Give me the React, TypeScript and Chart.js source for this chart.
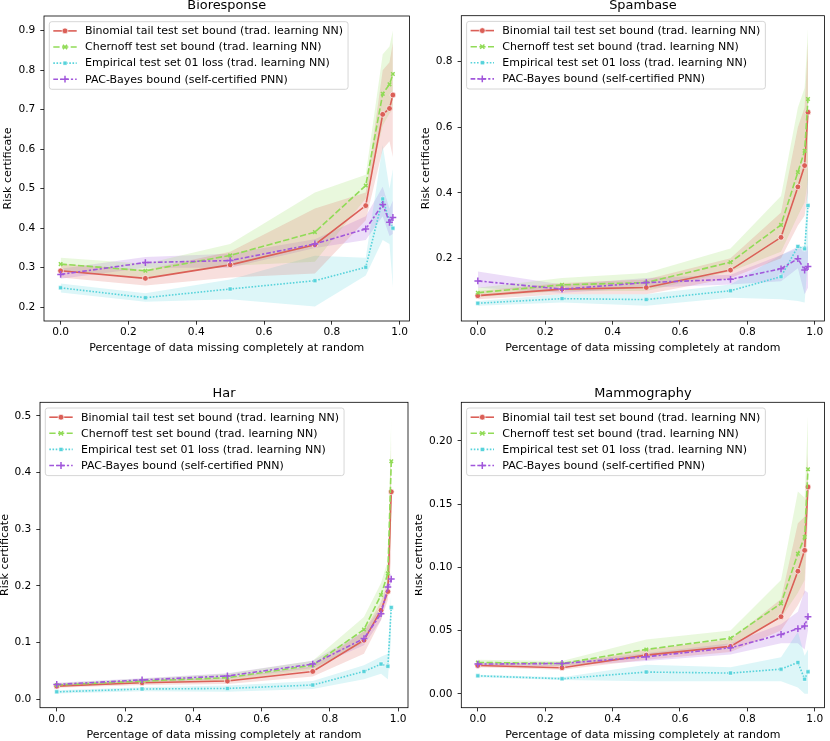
import React, { useEffect, useRef } from 'react';
import { Chart, registerables } from 'chart.js';

Chart.register(...registerables);

// ---------------- data ----------------
const missingFractions = [0, 0.25, 0.5, 0.75, 0.9, 0.95, 0.97, 0.98];

const seriesLabels = [
  'Binomial tail test set bound (trad. learning NN)',
  'Chernoff test set bound (trad. learning NN)',
  'Empirical test set 01 loss (trad. learning NN)',
  'PAC-Bayes bound (self-certified PNN)',
];

const panelTitles = ['Bioresponse', 'Spambase', 'Har', 'Mammography'];
const xAxisTitle = 'Percentage of data missing completely at random';
const yAxisTitle = 'Risk certificate';

const xTickValues = [0, 0.2, 0.4, 0.6, 0.8, 1.0];
const xTickLabels = ['0.0', '0.2', '0.4', '0.6', '0.8', '1.0'];

// Bioresponse
const bioBinomial = [0.292, 0.273, 0.307, 0.358, 0.457, 0.688, 0.703, 0.737];
const bioBinomialLo = [0.275, 0.255, 0.275, 0.285, 0.42, 0.6, 0.62, 0.58];
const bioBinomialHi = [0.31, 0.295, 0.34, 0.45, 0.49, 0.8, 0.82, 0.87];
const bioChernoff = [0.309, 0.292, 0.331, 0.39, 0.508, 0.74, 0.764, 0.79];
const bioChernoffLo = [0.29, 0.275, 0.305, 0.315, 0.475, 0.66, 0.69, 0.7];
const bioChernoffHi = [0.325, 0.31, 0.36, 0.49, 0.535, 0.84, 0.86, 0.9];
const bioEmpirical = [0.249, 0.224, 0.246, 0.267, 0.301, 0.474, 0.418, 0.4];
const bioEmpiricalLo = [0.237, 0.214, 0.22, 0.202, 0.28, 0.37, 0.36, 0.25];
const bioEmpiricalHi = [0.26, 0.235, 0.27, 0.33, 0.325, 0.61, 0.5, 0.55];
const bioPacBayes = [0.283, 0.313, 0.318, 0.36, 0.398, 0.46, 0.415, 0.427];
const bioPacBayesLo = [0.272, 0.3, 0.3, 0.35, 0.37, 0.43, 0.38, 0.385];
const bioPacBayesHi = [0.297, 0.327, 0.335, 0.372, 0.43, 0.505, 0.45, 0.47];
const bioYTicks = [0.2, 0.3, 0.4, 0.5, 0.6, 0.7, 0.8, 0.9];
const bioYTickLabels = ['0.2', '0.3', '0.4', '0.5', '0.6', '0.7', '0.8', '0.9'];

// Spambase
const spamBinomial = [0.086, 0.106, 0.111, 0.164, 0.264, 0.418, 0.483, 0.646];
const spamBinomialLo = [0.075, 0.09, 0.09, 0.14, 0.2, 0.3, 0.33, 0.4];
const spamBinomialHi = [0.1, 0.125, 0.135, 0.2, 0.34, 0.6, 0.66, 0.86];
const spamChernoff = [0.095, 0.119, 0.126, 0.188, 0.302, 0.463, 0.528, 0.686];
const spamChernoffLo = [0.082, 0.1, 0.1, 0.16, 0.22, 0.33, 0.37, 0.44];
const spamChernoffHi = [0.11, 0.14, 0.155, 0.23, 0.39, 0.66, 0.72, 0.9];
const spamEmpirical = [0.063, 0.077, 0.074, 0.101, 0.144, 0.236, 0.229, 0.361];
const spamEmpiricalLo = [0.055, 0.065, 0.055, 0.08, 0.075, 0.07, 0.065, 0.2];
const spamEmpiricalHi = [0.07, 0.09, 0.09, 0.12, 0.21, 0.23, 0.24, 0.5];
const spamPacBayes = [0.131, 0.106, 0.126, 0.136, 0.168, 0.199, 0.164, 0.175];
const spamPacBayesLo = [0.11, 0.095, 0.11, 0.12, 0.13, 0.17, 0.09, 0.11];
const spamPacBayesHi = [0.16, 0.12, 0.14, 0.15, 0.21, 0.235, 0.22, 0.24];
const spamYTicks = [0.2, 0.4, 0.6, 0.8];
const spamYTickLabels = ['0.2', '0.4', '0.6', '0.8'];

// Har
const harBinomial = [0.023, 0.029, 0.032, 0.049, 0.104, 0.157, 0.19, 0.366];
const harBinomialLo = [0.02, 0.025, 0.027, 0.04, 0.08, 0.14, 0.175, 0.25];
const harBinomialHi = [0.027, 0.033, 0.037, 0.058, 0.12, 0.172, 0.21, 0.46];
const harChernoff = [0.025, 0.032, 0.038, 0.06, 0.123, 0.184, 0.222, 0.42];
const harChernoffLo = [0.022, 0.028, 0.032, 0.052, 0.1, 0.165, 0.2, 0.3];
const harChernoffHi = [0.028, 0.036, 0.045, 0.068, 0.145, 0.205, 0.245, 0.5];
const harEmpirical = [0.013, 0.018, 0.019, 0.025, 0.049, 0.062, 0.058, 0.162];
const harEmpiricalLo = [0.01, 0.014, 0.013, 0.018, 0.035, 0.045, 0.035, 0.11];
const harEmpiricalHi = [0.016, 0.021, 0.024, 0.032, 0.06, 0.075, 0.08, 0.19];
const harPacBayes = [0.026, 0.034, 0.041, 0.062, 0.107, 0.151, 0.198, 0.212];
const harPacBayesLo = [0.023, 0.03, 0.036, 0.055, 0.095, 0.14, 0.185, 0.2];
const harPacBayesHi = [0.029, 0.037, 0.046, 0.068, 0.12, 0.163, 0.21, 0.225];
const harYTicks = [0.0, 0.1, 0.2, 0.3, 0.4, 0.5];
const harYTickLabels = ['0.0', '0.1', '0.2', '0.3', '0.4', '0.5'];

// Mammography
const mamBinomial = [0.0224, 0.0206, 0.0306, 0.0375, 0.061, 0.097, 0.1135, 0.1636];
const mamBinomialLo = [0.021, 0.019, 0.027, 0.033, 0.05, 0.07, 0.08, 0.14];
const mamBinomialHi = [0.024, 0.023, 0.035, 0.043, 0.075, 0.135, 0.14, 0.19];
const mamChernoff = [0.0248, 0.024, 0.0351, 0.044, 0.0715, 0.1108, 0.124, 0.1776];
const mamChernoffLo = [0.023, 0.022, 0.029, 0.039, 0.06, 0.08, 0.09, 0.15];
const mamChernoffHi = [0.027, 0.026, 0.043, 0.05, 0.09, 0.16, 0.155, 0.22];
const mamEmpirical = [0.0142, 0.0119, 0.0172, 0.0164, 0.0195, 0.0248, 0.0116, 0.0174];
const mamEmpiricalLo = [0.013, 0.011, 0.01, 0.01, 0.01, 0.005, 0.0, 0.0];
const mamEmpiricalHi = [0.015, 0.013, 0.023, 0.021, 0.029, 0.049, 0.03, 0.035];
const mamPacBayes = [0.0235, 0.024, 0.0293, 0.0364, 0.047, 0.0515, 0.0536, 0.061];
const mamPacBayesLo = [0.022, 0.022, 0.026, 0.031, 0.04, 0.04, 0.035, 0.05];
const mamPacBayesHi = [0.025, 0.025, 0.032, 0.04, 0.055, 0.065, 0.082, 0.08];
const mamYTicks = [0.0, 0.05, 0.1, 0.15, 0.2];
const mamYTickLabels = ['0.00', '0.05', '0.10', '0.15', '0.20'];

// ---------------- styles ----------------
const FONT_FAMILY = '"DejaVu Sans", sans-serif';
const TICK_FONT = 10.6;
const LABEL_FONT = 11;
const TITLE_FONT = 12.9;
const LEGEND_FONT = 11;

const SERIES_STYLES = [
  { color: '#db5f57', rgb: '219,95,87', dash: [] as number[], point: 'circle', radius: 2.9, pBorder: '#ffffff', pBorderW: 0.7 },
  { color: '#91db57', rgb: '145,219,87', dash: [6.3, 2.4], point: 'crossRot', radius: 2.5, pBorder: '#91db57', pBorderW: 1.5 },
  { color: '#57d3db', rgb: '87,211,219', dash: [1.6, 1.6], point: 'rect', radius: 2.8, pBorder: '#ffffff', pBorderW: 0.5 },
  { color: '#a157db', rgb: '161,87,219', dash: [4.7, 2, 2.2, 2], point: 'cross', radius: 3.4, pBorder: '#a157db', pBorderW: 1.5 },
];

type Geom = { x: number; y: number; w: number; h: number; left: number; top: number; right: number; bottom: number; ylabelX: number; xlabelY: number; titleGap: number };

const panels = [
  {
    title: panelTitles[0],
    series: [[bioBinomial, bioBinomialLo, bioBinomialHi], [bioChernoff, bioChernoffLo, bioChernoffHi], [bioEmpirical, bioEmpiricalLo, bioEmpiricalHi], [bioPacBayes, bioPacBayesLo, bioPacBayesHi]],
    yMin: 0.165, yMax: 0.937, yTicks: bioYTicks, yTickLabels: bioYTickLabels,
    geom: { x: 0, y: 0, w: 415, h: 370, left: 44, top: 16, right: 412, bottom: 321, ylabelX: 8.3, xlabelY: 348.3, titleGap: 7.2 } as Geom,
  },
  {
    title: panelTitles[1],
    series: [[spamBinomial, spamBinomialLo, spamBinomialHi], [spamChernoff, spamChernoffLo, spamChernoffHi], [spamEmpirical, spamEmpiricalLo, spamEmpiricalHi], [spamPacBayes, spamPacBayesLo, spamPacBayesHi]],
    yMin: 0.0087, yMax: 0.9404, yTicks: spamYTicks, yTickLabels: spamYTickLabels,
    geom: { x: 415, y: 0, w: 415, h: 370, left: 46.3, top: 15.7, right: 414, bottom: 321, ylabelX: 11.2, xlabelY: 348.3, titleGap: 6.8 } as Geom,
  },
  {
    title: panelTitles[2],
    series: [[harBinomial, harBinomialLo, harBinomialHi], [harChernoff, harChernoffLo, harChernoffHi], [harEmpirical, harEmpiricalLo, harEmpiricalHi], [harPacBayes, harPacBayesLo, harPacBayesHi]],
    yMin: -0.015, yMax: 0.524, yTicks: harYTicks, yTickLabels: harYTickLabels,
    geom: { x: 0, y: 370, w: 415, h: 371, left: 40, top: 32.3, right: 408, bottom: 337.7, ylabelX: 5, xlabelY: 365, titleGap: 5.8 } as Geom,
  },
  {
    title: panelTitles[3],
    series: [[mamBinomial, mamBinomialLo, mamBinomialHi], [mamChernoff, mamChernoffLo, mamChernoffHi], [mamEmpirical, mamEmpiricalLo, mamEmpiricalHi], [mamPacBayes, mamPacBayesLo, mamPacBayesHi]],
    yMin: -0.011, yMax: 0.2306, yTicks: mamYTicks, yTickLabels: mamYTickLabels,
    geom: { x: 415, y: 370, w: 415, h: 371, left: 46.3, top: 32.3, right: 414, bottom: 337.7, ylabelX: 4.2, xlabelY: 365, titleGap: 5.8 } as Geom,
  },
];

// ---------------- helpers ----------------
function drawMarker(ctx: CanvasRenderingContext2D, kind: string, x: number, y: number, st: any) {
  ctx.save();
  ctx.setLineDash([]);
  const r = st.radius;
  if (kind === 'circle') {
    ctx.beginPath();
    ctx.arc(x, y, r, 0, Math.PI * 2);
    ctx.fillStyle = st.color;
    ctx.fill();
    ctx.strokeStyle = st.pBorder;
    ctx.lineWidth = st.pBorderW;
    ctx.stroke();
  } else if (kind === 'rect') {
    const s = r * Math.SQRT1_2;
    ctx.fillStyle = st.color;
    ctx.fillRect(x - s, y - s, 2 * s, 2 * s);
    ctx.strokeStyle = st.pBorder;
    ctx.lineWidth = st.pBorderW;
    ctx.strokeRect(x - s, y - s, 2 * s, 2 * s);
  } else if (kind === 'crossRot') {
    const d = r * Math.SQRT1_2 * 1.2;
    ctx.strokeStyle = st.color;
    ctx.lineWidth = st.pBorderW;
    ctx.beginPath();
    ctx.moveTo(x - d, y - d); ctx.lineTo(x + d, y + d);
    ctx.moveTo(x - d, y + d); ctx.lineTo(x + d, y - d);
    ctx.stroke();
  } else {
    ctx.strokeStyle = st.color;
    ctx.lineWidth = st.pBorderW;
    ctx.beginPath();
    ctx.moveTo(x - r, y); ctx.lineTo(x + r, y);
    ctx.moveTo(x, y - r); ctx.lineTo(x, y + r);
    ctx.stroke();
  }
  ctx.restore();
}

const frameAndTextPlugin = {
  id: 'mplFrame',
  afterDatasetsDraw(chart: any) {
    const { ctx, chartArea: a } = chart;
    const opts = chart.options.plugins.mplFrame;
    ctx.save();
    // axes frame
    ctx.strokeStyle = '#000';
    ctx.lineWidth = 0.8;
    ctx.setLineDash([]);
    ctx.strokeRect(a.left, a.top, a.right - a.left, a.bottom - a.top);
    // title
    ctx.fillStyle = '#000';
    ctx.font = `${TITLE_FONT}px ${FONT_FAMILY}`;
    ctx.textAlign = 'center';
    ctx.textBaseline = 'alphabetic';
    ctx.fillText(opts.title, (a.left + a.right) / 2, a.top - opts.titleGap);
    // legend
    ctx.font = `${LEGEND_FONT}px ${FONT_FAMILY}`;
    const maxW = Math.max(...seriesLabels.map((l) => ctx.measureText(l).width));
    const bx = a.left + 5.3;
    const by = a.top + 5.7;
    const bw = 41 - 5.3 + maxW + 5;
    const bh = 67.6;
    ctx.beginPath();
    const rr = 2.5;
    ctx.moveTo(bx + rr, by);
    ctx.lineTo(bx + bw - rr, by);
    ctx.quadraticCurveTo(bx + bw, by, bx + bw, by + rr);
    ctx.lineTo(bx + bw, by + bh - rr);
    ctx.quadraticCurveTo(bx + bw, by + bh, bx + bw - rr, by + bh);
    ctx.lineTo(bx + rr, by + bh);
    ctx.quadraticCurveTo(bx, by + bh, bx, by + bh - rr);
    ctx.lineTo(bx, by + rr);
    ctx.quadraticCurveTo(bx, by, bx + rr, by);
    ctx.closePath();
    ctx.fillStyle = 'rgba(255,255,255,0.8)';
    ctx.fill();
    ctx.strokeStyle = '#cccccc';
    ctx.lineWidth = 0.8;
    ctx.stroke();
    seriesLabels.forEach((label, i) => {
      const st = SERIES_STYLES[i];
      const cy = a.top + 14.9 + i * 16.1;
      const hx0 = a.left + 9.3;
      const hx1 = a.left + 32.7;
      ctx.save();
      ctx.strokeStyle = st.color;
      ctx.lineWidth = 1.6;
      ctx.setLineDash(st.dash);
      ctx.beginPath();
      ctx.moveTo(hx0, cy);
      ctx.lineTo(hx1, cy);
      ctx.stroke();
      ctx.restore();
      drawMarker(ctx, st.point, (hx0 + hx1) / 2, cy, st);
      ctx.fillStyle = '#000';
      ctx.textAlign = 'left';
      ctx.textBaseline = 'middle';
      ctx.fillText(label, a.left + 41, cy + 0.5);
    });
    ctx.restore();
  },
};

function PanelChart({ panel }: { panel: (typeof panels)[number] }) {
  const ref = useRef<HTMLCanvasElement>(null);
  useEffect(() => {
    const g = panel.geom;
    const datasets: any[] = [];
    panel.series.forEach((s, i) => {
      const st = SERIES_STYLES[i];
      datasets.push({
        label: seriesLabels[i],
        data: missingFractions.map((x, k) => ({ x, y: s[0][k] })),
        borderColor: st.color,
        backgroundColor: st.color,
        borderWidth: 1.6,
        borderDash: st.dash,
        pointStyle: st.point,
        pointRadius: st.radius,
        pointBackgroundColor: st.color,
        pointBorderColor: st.pBorder,
        pointBorderWidth: st.pBorderW,
        fill: false,
        tension: 0,
        order: 3 - i,
      });
    });
    panel.series.forEach((s, i) => {
      const st = SERIES_STYLES[i];
      datasets.push({
        label: '',
        data: missingFractions.map((x, k) => ({ x, y: s[2][k] })),
        borderColor: 'rgba(0,0,0,0)',
        borderWidth: 1,
        pointRadius: 0,
        backgroundColor: `rgba(${st.rgb},0.2)`,
        fill: '+1',
        tension: 0,
        order: 10 + i,
      });
      datasets.push({
        label: '',
        data: missingFractions.map((x, k) => ({ x, y: s[1][k] })),
        borderColor: 'rgba(0,0,0,0)',
        borderWidth: 1,
        pointRadius: 0,
        backgroundColor: 'rgba(0,0,0,0)',
        fill: false,
        tension: 0,
        order: 10 + i,
      });
    });
    const tickFont = { family: FONT_FAMILY, size: TICK_FONT };
    const labelFont = { family: FONT_FAMILY, size: LABEL_FONT };
    const lh = LABEL_FONT * 1.2;
    const chart = new Chart(ref.current as HTMLCanvasElement, {
      type: 'line',
      data: { datasets },
      options: {
        animation: false,
        responsive: false,
        devicePixelRatio: 1,
        layout: { padding: { top: g.top, right: g.w - g.right, left: 0, bottom: 0 } },
        plugins: {
          legend: { display: false },
          tooltip: { enabled: false },
          mplFrame: { title: panel.title, titleGap: g.titleGap },
        } as any,
        scales: {
          x: {
            type: 'linear',
            min: -0.049,
            max: 1.029,
            afterBuildTicks: (s: any) => {
              s.ticks = xTickValues.map((v) => ({ value: v }));
            },
            afterFit: (s: any) => {
              s.height = g.h - g.bottom;
            },
            ticks: {
              autoSkip: false,
              maxRotation: 0,
              minRotation: 0,
              font: tickFont,
              color: '#000',
              padding: 1.5,
              callback: (v: any) => xTickLabels[xTickValues.indexOf(v)],
            },
            grid: { drawOnChartArea: false, drawTicks: true, tickLength: 3.7, color: '#000', lineWidth: 0.8 },
            border: { display: false },
            title: {
              display: true,
              text: xAxisTitle,
              font: labelFont,
              color: '#000',
              padding: { top: 0, bottom: g.h - g.xlabelY - lh / 2 },
            },
          },
          y: {
            type: 'linear',
            min: panel.yMin,
            max: panel.yMax,
            afterBuildTicks: (s: any) => {
              s.ticks = panel.yTicks.map((v) => ({ value: v }));
            },
            afterFit: (s: any) => {
              s.width = g.left;
            },
            ticks: {
              autoSkip: false,
              font: tickFont,
              color: '#000',
              padding: 5,
              callback: (v: any) => panel.yTickLabels[panel.yTicks.indexOf(v)],
            },
            grid: { drawOnChartArea: false, drawTicks: true, tickLength: 3.7, color: '#000', lineWidth: 0.8 },
            border: { display: false },
            title: {
              display: true,
              text: yAxisTitle,
              font: labelFont,
              color: '#000',
              padding: { top: g.ylabelX - lh / 2, bottom: 0 },
            },
          },
        },
      } as any,
      plugins: [frameAndTextPlugin],
    });
    return () => chart.destroy();
  }, [panel]);
  const g = panel.geom;
  return (
    <canvas
      ref={ref}
      width={g.w}
      height={g.h}
      style={{ position: 'absolute', left: g.x, top: g.y, width: g.w, height: g.h }}
    />
  );
}

export default function App() {
  return (
    <div style={{ position: 'fixed', left: 0, top: 0, width: 830, height: 741, background: '#fff', overflow: 'hidden' }}>
      {panels.map((p) => (
        <PanelChart key={p.title} panel={p} />
      ))}
    </div>
  );
}
